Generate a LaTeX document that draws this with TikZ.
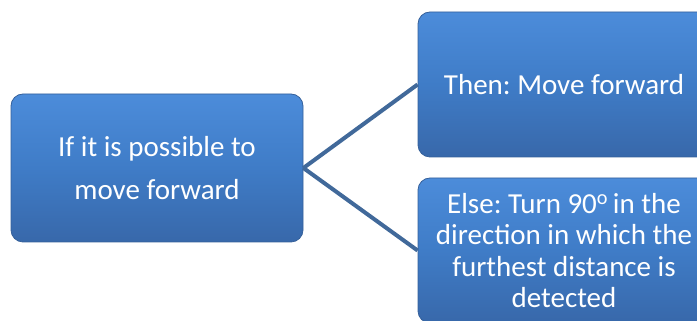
\documentclass[tikz,border=0pt]{standalone}
\usepackage{fontspec}
\setmainfont{Carlito}
\frenchspacing
\definecolor{boxtop}{HTML}{4C8CDA}
\definecolor{boxmid}{HTML}{3F7CC7}
\definecolor{boxbot}{HTML}{3868AA}
\definecolor{boxedge}{HTML}{35609A}
\definecolor{linkc}{HTML}{41699A}
\tikzset{
  bluebox/.style={rectangle, rounded corners=12pt, top color=boxtop, bottom color=boxbot, middle color=boxmid,
    draw=boxedge, line width=0.8pt, minimum width=292pt, text=white, align=center, inner sep=0pt},
  link/.style={draw=linkc, line width=4pt}
}
\begin{document}
\begin{tikzpicture}[x=1pt,y=1pt]
\useasboundingbox (0,0) rectangle (697,321);
\clip (0,0) rectangle (697,321);
\node[bluebox, minimum height=148pt, font=\fontsize{29}{43}\selectfont] (cond) at (157,153)
  {If it is possible to\\move forward};
\node[bluebox, minimum height=145pt, font=\fontsize{29}{32}\selectfont] (then) at (564,236.5)
  {Then: Move forward};
\node[bluebox, minimum height=145pt, font=\fontsize{29}{31.5}\selectfont] (else) at (564,70.5)
  {Else: Turn 90\textsuperscript{o}\,in the\\direction in which the\\furthest distance is\\detected};
\draw[link] (cond.east) -- (then.west);
\draw[link] (cond.east) -- (else.west);
\end{tikzpicture}
\end{document}
